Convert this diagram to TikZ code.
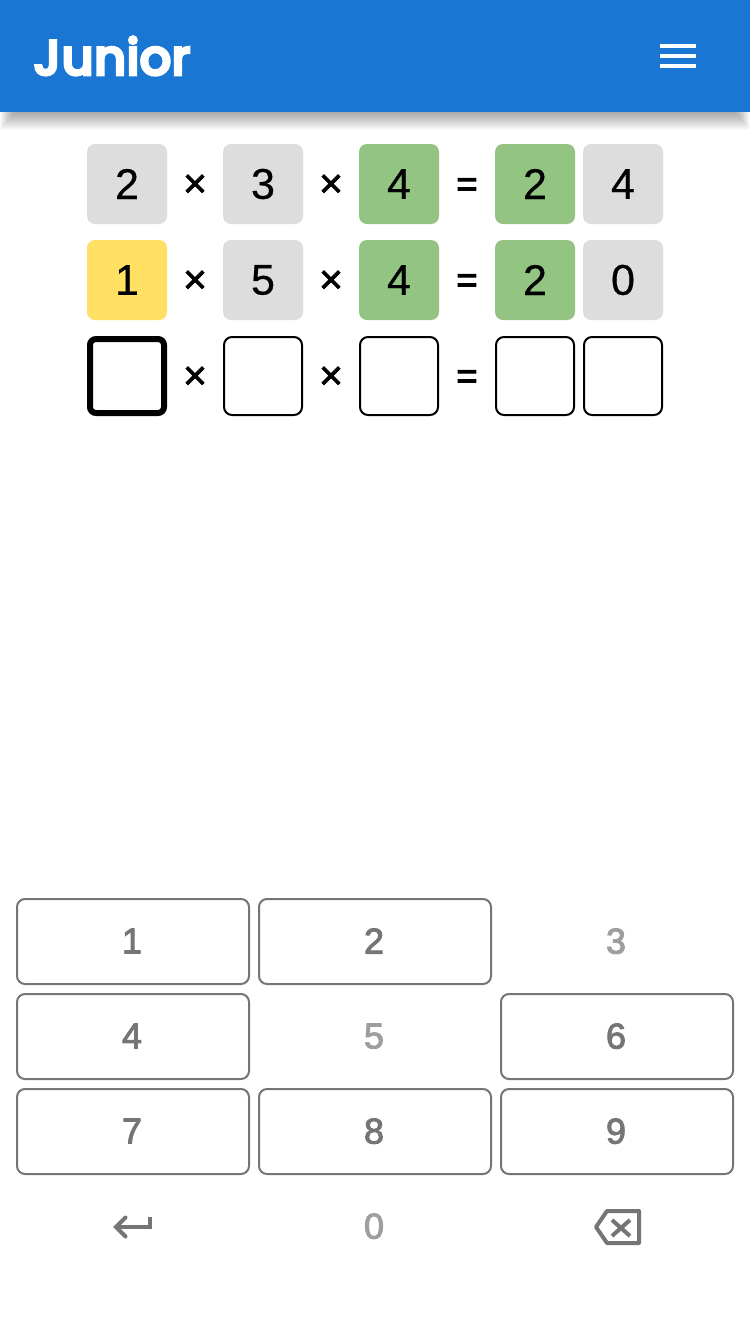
\documentclass[tikz,border=0pt]{standalone}
\usepackage{fontspec}
\setmainfont{Liberation Sans}
\newfontfamily\tilefont[FakeBold=0.5]{Liberation Sans}
\newfontfamily\keyfont[FakeBold=2.6]{Liberation Sans}
\newfontfamily\operfont[FakeBold=1.6]{Liberation Sans}
\newfontfamily\eqfont[FakeBold=2.4]{Liberation Sans}
\newfontfamily\logofont[FakeBold=5]{Poppins Medium}
\newcommand\kd[1]{\raisebox{1pt}{\kern-2pt #1}}
\definecolor{hdr}{HTML}{1976D2}
\definecolor{tgray}{HTML}{DDDDDD}
\definecolor{tgreen}{HTML}{93C482}
\definecolor{tyellow}{HTML}{FFE062}
\definecolor{kgray}{HTML}{757575}
\definecolor{kdis}{HTML}{9E9E9E}
\tikzset{
 tile/.style={rounded corners=8pt,minimum width=80pt,minimum height=80pt,inner sep=0pt,outer sep=0pt,font=\tilefont\fontsize{43}{43}\selectfont,text=black},
 gtile/.style={tile,fill=tgray},
 ytile/.style={tile,fill=tyellow},
 ntile/.style={tile,fill=tgreen},
 blank/.style={tile,draw=black,line width=2pt,minimum width=78pt,minimum height=78pt},
 active/.style={tile,draw=black,line width=6pt,rounded corners=6pt,minimum width=74pt,minimum height=74pt},
 oper/.style={inner sep=0pt,font=\operfont\fontsize{41}{41}\selectfont,text=black,yshift=-2pt},
 eqsign/.style={inner sep=0pt,font=\eqfont\fontsize{37}{37}\selectfont,text=black,yshift=-3.5pt},
 keycap/.style={rounded corners=8pt,draw=kgray,line width=2pt,minimum width=232pt,minimum height=85pt,inner sep=0pt,text=kgray,font=\keyfont\fontsize{36}{36}\selectfont},
 keyoff/.style={inner sep=0pt,text=kdis,font=\keyfont\fontsize{36}{36}\selectfont},
 icon/.style={draw=kgray,line width=4pt}
}
\begin{document}
\begin{tikzpicture}[x=1pt,y=-1pt]
\useasboundingbox (0,0) rectangle (750,1334);
\fill[white] (0,0) rectangle (750,1334);
% header shadow
\foreach \d in {0,1,...,17}{
  \fill[black,opacity=.02] (\d*0.8,105) rectangle (750-\d*0.8,112+18-\d);
}
\fill[hdr] (0,0) rectangle (750,112);
\node[inner sep=0pt,text=white,anchor=base west,font=\logofont\fontsize{50}{50}\selectfont] (logo) at (33,75) {Junior};
\fill[white] (660,44) rectangle (696,48);
\fill[white] (660,54) rectangle (696,58);
\fill[white] (660,64) rectangle (696,68);
% row 1
\node[gtile] (a1) at (127,184) {2};
\node[oper] (ax) at (195,184) {×};
\node[gtile] (a2) at (263,184) {3};
\node[oper] (ay) at (331,184) {×};
\node[ntile] (a3) at (399,184) {4};
\node[eqsign] (ae) at (467,184) {=};
\node[ntile] (a4) at (535,184) {2};
\node[gtile] (a5) at (623,184) {4};
% row 2
\node[ytile] (b1) at (127,280) {1};
\node[oper] (bx) at (195,280) {×};
\node[gtile] (b2) at (263,280) {5};
\node[oper] (by) at (331,280) {×};
\node[ntile] (b3) at (399,280) {4};
\node[eqsign] (be) at (467,280) {=};
\node[ntile] (b4) at (535,280) {2};
\node[gtile] (b5) at (623,280) {0};
% row 3
\node[active] (c1) at (127,376) {};
\node[oper] (cx) at (195,376) {×};
\node[blank] (c2) at (263,376) {};
\node[oper] (cy) at (331,376) {×};
\node[blank] (c3) at (399,376) {};
\node[eqsign] (ce) at (467,376) {=};
\node[blank] (c4) at (535,376) {};
\node[blank] (c5) at (623,376) {};
% keypad
\node[keycap] (k1) at (133,941.5) {\kd{1}};
\node[keycap] (k2) at (375,941.5) {\kd{2}};
\node[keyoff] (k3) at (617,941.5) {\kd{3}};
\node[keycap] (k4) at (133,1036.5) {\kd{4}};
\node[keyoff] (k5) at (375,1036.5) {\kd{5}};
\node[keycap] (k6) at (617,1036.5) {\kd{6}};
\node[keycap] (k7) at (133,1131.5) {\kd{7}};
\node[keycap] (k8) at (375,1131.5) {\kd{8}};
\node[keycap] (k9) at (617,1131.5) {\kd{9}};
\node[keyoff] (k0) at (375,1226.5) {\kd{0}};
% enter icon
\draw[icon,line join=miter] (116,1227) -- (150,1227) -- (150,1217);
\draw[icon,line cap=round,line join=miter] (125.5,1217.5) -- (116,1227) -- (125.5,1236.5);
% backspace icon
\draw[icon,line join=round] (607,1211) -- (639,1211) -- (639,1243) -- (607,1243) -- (596,1227) -- cycle;
\draw[icon,line width=4pt] (612,1220) -- (630,1236) (630,1220) -- (612,1236);
\end{tikzpicture}
\end{document}
